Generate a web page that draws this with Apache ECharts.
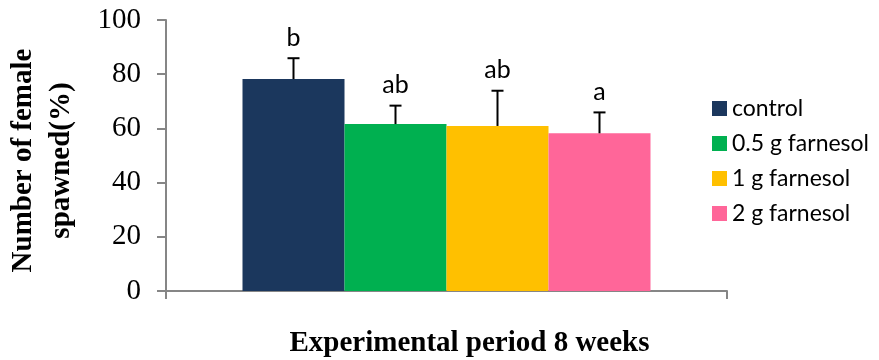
<!DOCTYPE html>
<html>
<head>
<meta charset="utf-8">
<script src="https://cdn.jsdelivr.net/npm/echarts@6/dist/echarts.min.js"></script>
<style>
  html, body { margin: 0; padding: 0; background: #fff; }
  #chart { width: 879px; height: 360px; }
</style>
</head>
<body>
<div id="chart"></div>
<script>
// Spawning success per treatment group (mean % with upward SD bar and significance letter)
const periodLabel = 'Experimental period 8 weeks';
const groups = ['control', '0.5 g farnesol', '1 g farnesol', '2 g farnesol'];
const means = [78.2, 61.6, 60.9, 58.2];
const sdUpper = [7.7, 6.8, 13.0, 7.7];
const letters = ['b', 'ab', 'ab', 'a'];
const yTicks = { min: 0, max: 100, interval: 20 };

const colors = ['#1b375d', '#00b050', '#ffc000', '#ff6699'];
const BAR_W = 102;
const AXIS_GRAY = '#868686';
const SERIF = '"Liberation Serif", "Times New Roman", serif';
const SANS = 'Lato, "Open Sans", sans-serif';

const chart = echarts.init(document.getElementById('chart'));

const barSeries = groups.map((g, i) => ({
  name: g,
  type: 'bar',
  data: [means[i]],
  barWidth: BAR_W,
  barGap: '0%',
  itemStyle: { color: colors[i] },
  silent: true
}));

const errorSeries = {
  type: 'custom',
  name: 'sd',
  silent: true,
  z: 5,
  data: groups.map((g, i) => [0, means[i], sdUpper[i], i]),
  renderItem: function (params, api) {
    const idx = api.value(3);
    const base = api.coord([api.value(0), api.value(1)]);
    const top = api.coord([api.value(0), api.value(1) + api.value(2)]);
    const x = base[0] + (idx - (groups.length - 1) / 2) * BAR_W;
    const cap = 6;
    return {
      type: 'group',
      children: [
        { type: 'line', shape: { x1: x, y1: base[1], x2: x, y2: top[1] },
          style: { stroke: '#000', lineWidth: 2 } },
        { type: 'line', shape: { x1: x - cap, y1: top[1], x2: x + cap, y2: top[1] },
          style: { stroke: '#000', lineWidth: 2 } },
        { type: 'text', x: x, y: top[1] - 8,
          style: { text: letters[idx], fill: '#000', font: '25px ' + SANS,
                   align: 'center', verticalAlign: 'bottom' } }
      ]
    };
  }
};

chart.setOption({
  animation: false,
  backgroundColor: '#fff',
  grid: { left: 166, right: 152, top: 20, bottom: 69, containLabel: false, outerBoundsMode: 'none' },
  legend: {
    data: groups,
    orient: 'vertical',
    left: 707,
    top: 92,
    itemWidth: 15,
    itemHeight: 15,
    itemGap: 12,
    icon: 'rect',
    textStyle: { fontFamily: SANS, fontSize: 23, color: '#000' },
    selectedMode: false
  },
  xAxis: {
    type: 'category',
    data: [periodLabel],
    axisLine: { lineStyle: { color: AXIS_GRAY, width: 2 } },
    axisTick: { show: true, length: 8, lineStyle: { color: AXIS_GRAY, width: 2 } },
    axisLabel: { show: false },
    name: periodLabel,
    nameLocation: 'middle',
    nameGap: 38,
    nameTextStyle: { fontFamily: SERIF, fontWeight: 'bold', fontSize: 29, color: '#000',
                     padding: [0, 0, 0, 46] }
  },
  yAxis: {
    type: 'value',
    min: yTicks.min,
    max: yTicks.max,
    interval: yTicks.interval,
    splitLine: { show: false },
    axisLine: { show: true, lineStyle: { color: AXIS_GRAY, width: 2 } },
    axisTick: { show: true, length: 9, lineStyle: { color: AXIS_GRAY, width: 2 } },
    axisLabel: { margin: 25, fontFamily: SERIF, fontSize: 29, color: '#000' },
    name: 'Number of female\nspawned(%)',
    nameLocation: 'middle',
    nameGap: 85,
    nameTextStyle: { fontFamily: SERIF, fontWeight: 'bold', fontSize: 29, color: '#000',
                     lineHeight: 38, padding: [0, 10, 0, 0] }
  },
  series: [...barSeries, errorSeries]
});
</script>
</body>
</html>
